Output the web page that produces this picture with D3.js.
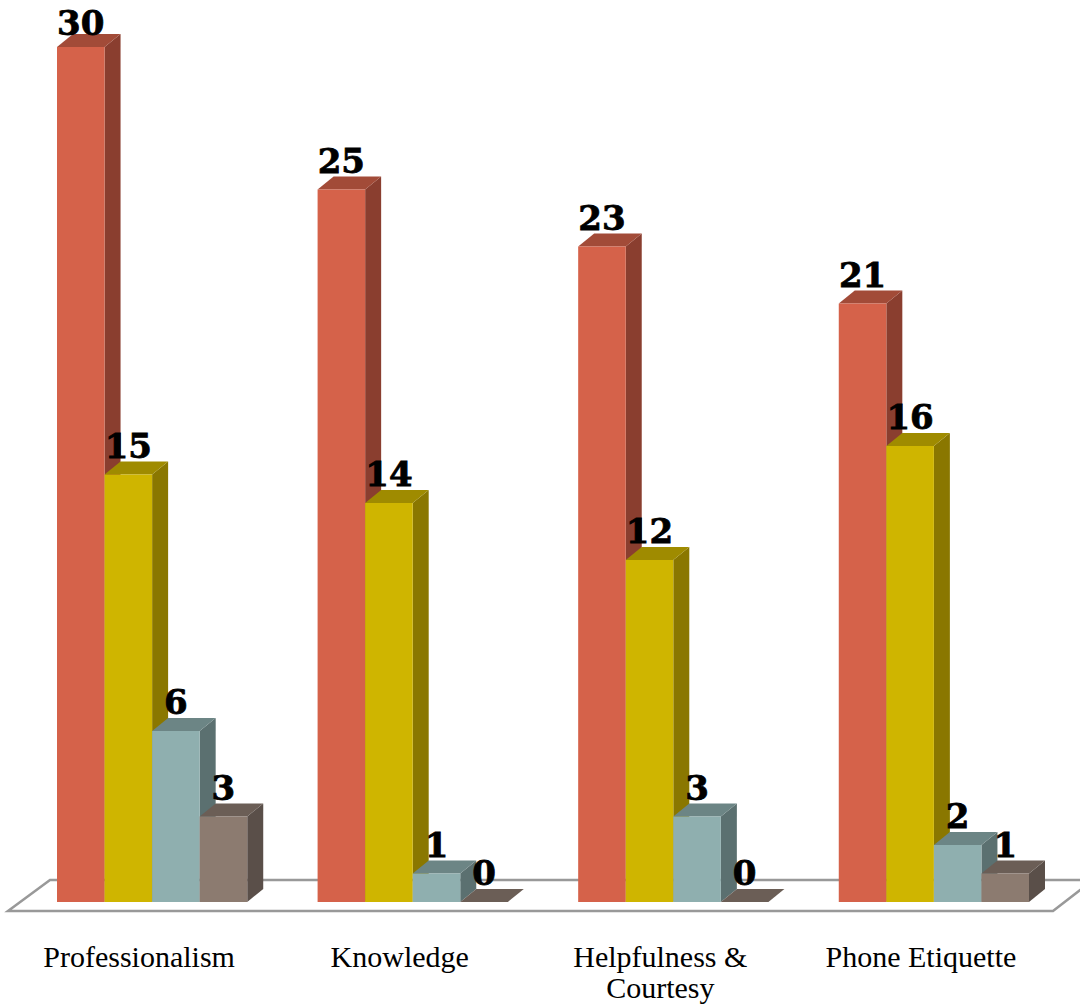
<!DOCTYPE html>
<html>
<head>
<meta charset="utf-8">
<script src="https://cdn.jsdelivr.net/npm/d3@7"></script>
<style>
  body { margin: 0; background: #fff; }
</style>
</head>
<body>
<div class="chart"></div>
<script>
const categories = ["Professionalism", "Knowledge", "Helpfulness & Courtesy", "Phone Etiquette"]
const seriesNames = ["s1", "s2", "s3", "s4"]
const s1 = [30, 25, 23, 21]
const s2 = [15, 14, 12, 16]
const s3 = [6, 1, 3, 2]
const s4 = [3, 0, 0, 1]
const tickLabels = [["Professionalism"], ["Knowledge"], ["Helpfulness &", "Courtesy"], ["Phone Etiquette"]]

const width = 1080
const height = 1007
const base = 902
const depthX = 16
const depthY = -13

const front = ["#d5624a", "#cfb500", "#8fafaf", "#8c7b70"]
const top_ = ["#a24b38", "#9f8b00", "#6c8585", "#6b5e56"]
const side = ["#8a3e2f", "#8a7700", "#5b7070", "#5a4f49"]

const allSeries = [s1, s2, s3, s4]
const rows = categories.map((c, i) => ({
    cat: c,
    vals: allSeries.map((s, j) => ({ key: seriesNames[j], idx: j, v: s[i] }))
}))

const x = d3.scaleBand()
    .domain(categories)
    .range([57, 1029])
    .paddingInner(0.27)
    .paddingOuter(0)

const xi = d3.scaleBand()
    .domain(seriesNames)
    .range([0, x.bandwidth()])

const y = d3.scaleLinear()
    .domain([0, 30])
    .range([base, 47])

const svg = d3.select(".chart")
    .append("svg")
    .attr("width", width)
    .attr("height", height)

// floor
svg.append("polygon")
    .attr("points", [[8, 911], [50, 880], [1093, 880], [1053, 911]].map(p => p.join(",")).join(" "))
    .attr("fill", "none")
    .attr("stroke", "#999")
    .attr("stroke-width", 2.5)

const groups = svg.selectAll("g.grp")
    .data(rows)
    .join("g")
    .attr("class", "grp")
    .attr("transform", d => `translate(${x(d.cat)},0)`)

const bars = groups.selectAll("g.bar")
    .data(d => d.vals)
    .join("g")
    .attr("class", "bar")

const w = xi.bandwidth()

bars.append("polygon")
    .attr("points", d => {
        const x0 = xi(d.key), yt = y(d.v)
        return [[x0 + w, yt], [x0 + w + depthX, yt + depthY], [x0 + w + depthX, base + depthY], [x0 + w, base]].map(p => p.join(",")).join(" ")
    })
    .attr("fill", d => side[d.idx])

bars.append("polygon")
    .attr("points", d => {
        const x0 = xi(d.key), yt = y(d.v)
        return [[x0, yt], [x0 + depthX, yt + depthY], [x0 + w + depthX, yt + depthY], [x0 + w, yt]].map(p => p.join(",")).join(" ")
    })
    .attr("fill", d => top_[d.idx])

bars.append("rect")
    .attr("x", d => xi(d.key))
    .attr("y", d => y(d.v))
    .attr("width", w)
    .attr("height", d => base - y(d.v))
    .attr("fill", d => front[d.idx])

// value labels
groups.selectAll("text.val")
    .data(d => d.vals)
    .join("text")
    .attr("class", "val")
    .attr("x", d => xi(d.key) + w / 2)
    .attr("y", d => Math.max(35, y(d.v) - 17))
    .attr("text-anchor", "middle")
    .attr("font-family", "DejaVu Serif")
    .attr("font-weight", "bold")
    .attr("font-size", 34)
    .attr("stroke", "#000")
    .attr("stroke-width", 0.8)
    .attr("fill", "#000")
    .text(d => d.v)

// category labels
const catText = svg.selectAll("text.cat")
    .data(categories)
    .join("text")
    .attr("class", "cat")
    .attr("x", d => x(d) + x.bandwidth() / 2 - 13)
    .attr("y", 967)
    .attr("text-anchor", "middle")
    .attr("font-family", "Liberation Serif")
    .attr("font-size", 30)
    .attr("fill", "#000")

catText.selectAll("tspan")
    .data((d, i) => tickLabels[i])
    .join("tspan")
    .attr("x", function () { return d3.select(this.parentNode).attr("x") })
    .attr("dy", (d, i) => i === 0 ? 0 : 31)
    .text(d => d)
</script>
</body>
</html>
